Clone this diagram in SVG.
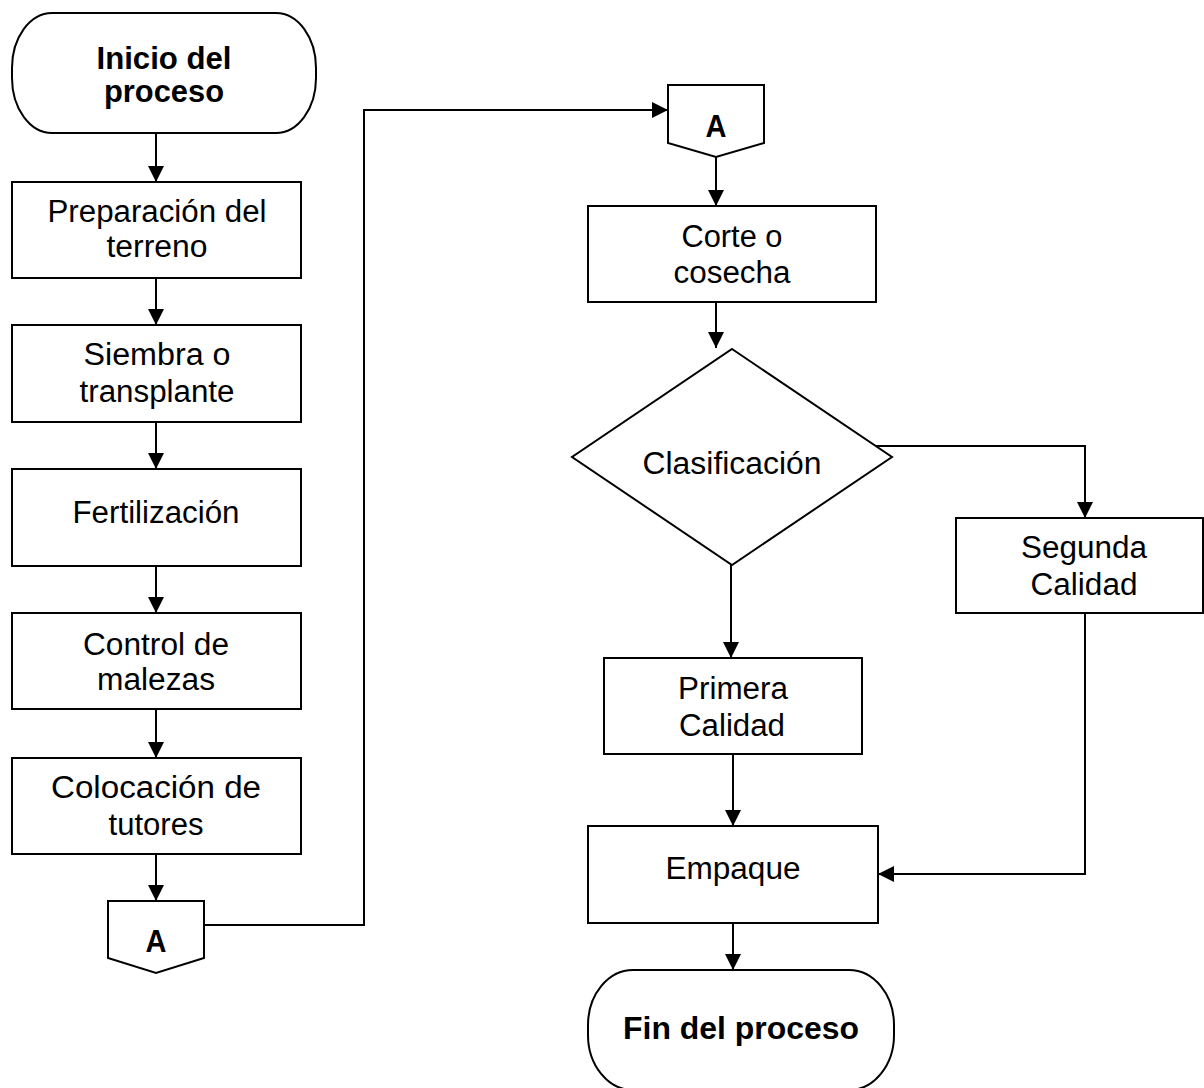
<svg xmlns="http://www.w3.org/2000/svg" width="1204" height="1088" viewBox="0 0 1204 1088">
<style>
.s{fill:#fff;stroke:#000;stroke-width:2}
.c{fill:none;stroke:#000;stroke-width:2}
.t{font-family:"Liberation Sans",Arial,sans-serif;font-size:31px;fill:#000;text-anchor:middle}
.b{font-weight:bold}
</style>
<defs>
<marker id="ah" markerUnits="userSpaceOnUse" markerWidth="17" markerHeight="17" refX="16" refY="8" orient="auto">
<path d="M0,0 L16,8 L0,16 z" fill="#000"/>
</marker>
</defs>
<rect width="1204" height="1088" fill="#fff"/>
<g id="connectors">
<line class="c" x1="156" y1="133" x2="156" y2="182" marker-end="url(#ah)"/>
<line class="c" x1="156" y1="278" x2="156" y2="325" marker-end="url(#ah)"/>
<line class="c" x1="156" y1="422" x2="156" y2="469" marker-end="url(#ah)"/>
<line class="c" x1="156" y1="566" x2="156" y2="613" marker-end="url(#ah)"/>
<line class="c" x1="156" y1="709" x2="156" y2="758" marker-end="url(#ah)"/>
<line class="c" x1="156" y1="854" x2="156" y2="901" marker-end="url(#ah)"/>
<polyline class="c" points="204,925 364,925 364,110 668,110" marker-end="url(#ah)"/>
<line class="c" x1="716" y1="157" x2="716" y2="206" marker-end="url(#ah)"/>
<line class="c" x1="716" y1="302" x2="716" y2="348" marker-end="url(#ah)"/>
<polyline class="c" points="876,446 1085,446 1085,518" marker-end="url(#ah)"/>
<line class="c" x1="731" y1="565" x2="731" y2="658" marker-end="url(#ah)"/>
<line class="c" x1="733" y1="754" x2="733" y2="826" marker-end="url(#ah)"/>
<polyline class="c" points="1085,613 1085,874 878,874" marker-end="url(#ah)"/>
<line class="c" x1="733" y1="923" x2="733" y2="970" marker-end="url(#ah)"/>
</g>
<g id="inicio">
<rect class="s" x="12" y="13" width="304" height="120" rx="40" ry="55"/>
<text class="t b" x="164" y="69" textLength="135" lengthAdjust="spacingAndGlyphs">Inicio del</text>
<text class="t b" x="164" y="102" textLength="120" lengthAdjust="spacingAndGlyphs">proceso</text>
</g>
<g id="preparacion">
<rect class="s" x="12" y="182" width="289" height="96"/>
<text class="t" x="157" y="222" textLength="219" lengthAdjust="spacingAndGlyphs">Preparación del</text>
<text class="t" x="157" y="257" textLength="101" lengthAdjust="spacingAndGlyphs">terreno</text>
</g>
<g id="siembra">
<rect class="s" x="12" y="325" width="289" height="97"/>
<text class="t" x="157" y="365" textLength="147" lengthAdjust="spacingAndGlyphs">Siembra o</text>
<text class="t" x="157" y="402" textLength="155" lengthAdjust="spacingAndGlyphs">transplante</text>
</g>
<g id="fertilizacion">
<rect class="s" x="12" y="469" width="289" height="97"/>
<text class="t" x="156" y="523" textLength="167" lengthAdjust="spacingAndGlyphs">Fertilización</text>
</g>
<g id="control">
<rect class="s" x="12" y="613" width="289" height="96"/>
<text class="t" x="156" y="655" textLength="146" lengthAdjust="spacingAndGlyphs">Control de</text>
<text class="t" x="156" y="690" textLength="118" lengthAdjust="spacingAndGlyphs">malezas</text>
</g>
<g id="colocacion">
<rect class="s" x="12" y="758" width="289" height="96"/>
<text class="t" x="156" y="798" textLength="210" lengthAdjust="spacingAndGlyphs">Colocación de</text>
<text class="t" x="156" y="835" textLength="95" lengthAdjust="spacingAndGlyphs">tutores</text>
</g>
<g id="conector-a-salida">
<polygon class="s" points="108,901 204,901 204,958 156,973 108,958"/>
<text class="t b" x="156" y="952" textLength="21" lengthAdjust="spacingAndGlyphs">A</text>
</g>
<g id="conector-a-entrada">
<polygon class="s" points="668,85 764,85 764,143 716,157 668,143"/>
<text class="t b" x="716" y="137" textLength="21" lengthAdjust="spacingAndGlyphs">A</text>
</g>
<g id="corte">
<rect class="s" x="588" y="206" width="288" height="96"/>
<text class="t" x="732" y="247" textLength="101" lengthAdjust="spacingAndGlyphs">Corte o</text>
<text class="t" x="732" y="283" textLength="117" lengthAdjust="spacingAndGlyphs">cosecha</text>
</g>
<g id="clasificacion">
<polygon class="s" points="732,349 892,457 732,565 572,457"/>
<text class="t" x="732" y="474" textLength="179" lengthAdjust="spacingAndGlyphs">Clasificación</text>
</g>
<g id="segunda">
<rect class="s" x="956" y="518" width="247" height="95"/>
<text class="t" x="1084" y="558" textLength="126" lengthAdjust="spacingAndGlyphs">Segunda</text>
<text class="t" x="1084" y="595" textLength="107" lengthAdjust="spacingAndGlyphs">Calidad</text>
</g>
<g id="primera">
<rect class="s" x="604" y="658" width="258" height="96"/>
<text class="t" x="733" y="699" textLength="110" lengthAdjust="spacingAndGlyphs">Primera</text>
<text class="t" x="732" y="736" textLength="106" lengthAdjust="spacingAndGlyphs">Calidad</text>
</g>
<g id="empaque">
<rect class="s" x="588" y="826" width="290" height="97"/>
<text class="t" x="733" y="879" textLength="135" lengthAdjust="spacingAndGlyphs">Empaque</text>
</g>
<g id="fin">
<rect class="s" x="588" y="970" width="306" height="120" rx="45" ry="55"/>
<text class="t b" x="741" y="1039" textLength="236" lengthAdjust="spacingAndGlyphs">Fin del proceso</text>
</g>
</svg>
